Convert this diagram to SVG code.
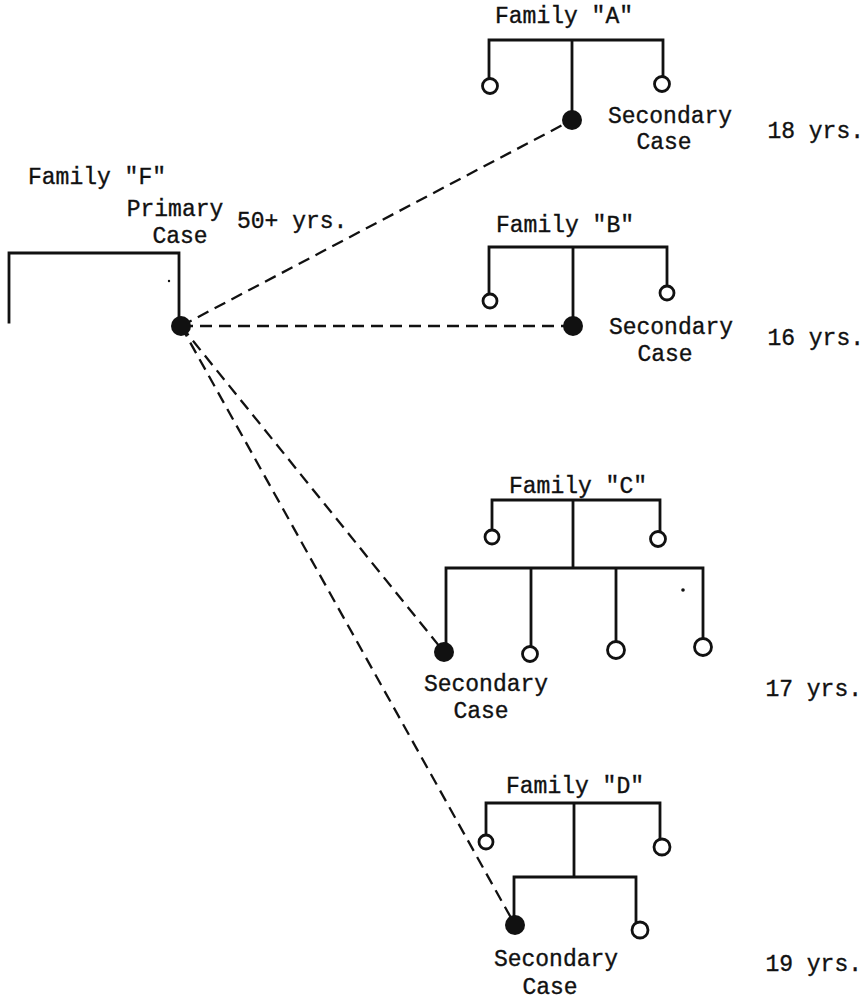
<svg xmlns="http://www.w3.org/2000/svg" width="868" height="1000" viewBox="0 0 868 1000">
<style>
text{font-family:"Liberation Mono","Courier New",monospace;font-size:23px;fill:#111;stroke:#111;stroke-width:0.35}
.m{text-anchor:middle}
.e{text-anchor:end}
.ln{stroke:#111;stroke-width:2.8;fill:none;stroke-linecap:square}
.op{stroke:#111;stroke-width:2.8;fill:#fff}
.fi{fill:#111}
.dash{stroke:#111;stroke-width:2.3;fill:none;stroke-dasharray:12 7}
</style>
<rect width="868" height="1000" fill="#fff"/>
<g id="connectors">
<line class="dash" x1="181" y1="326" x2="572" y2="120"/>
<line class="dash" x1="181" y1="326" x2="573" y2="326"/>
<line class="dash" x1="181" y1="326" x2="444" y2="652"/>
<line class="dash" x1="181" y1="326" x2="515" y2="925"/>
</g>
<g id="familyF">
<text x="28" y="184">Family "F"</text>
<text class="m" x="175" y="216">Primary</text>
<text class="m" x="180" y="243">Case</text>
<text x="237" y="228">50+ yrs.</text>
<path class="ln" d="M9 322 V253 H179 V318"/>
<circle class="fi" cx="181" cy="326" r="10"/>
<circle class="fi" cx="169" cy="281" r="1.2"/>
</g>
<g id="familyA">
<text class="m" x="564" y="23">Family "A"</text>
<path class="ln" d="M489 78 V40 H663 V76 M572 40 V115"/>
<circle class="op" cx="490" cy="86" r="7.5"/>
<circle class="op" cx="662" cy="84" r="7.5"/>
<circle class="fi" cx="572" cy="120" r="10"/>
<text class="m" x="670" y="123">Secondary</text>
<text class="m" x="664" y="149">Case</text>
<text class="e" x="864" y="138">18 yrs.</text>
</g>
<g id="familyB">
<text class="m" x="565" y="232">Family "B"</text>
<path class="ln" d="M489 294 V247 H667 V286 M573 247 V318"/>
<circle class="op" cx="490" cy="301" r="7"/>
<circle class="op" cx="667" cy="293" r="7"/>
<circle class="fi" cx="573" cy="326" r="10"/>
<text class="m" x="671" y="334">Secondary</text>
<text class="m" x="665" y="361">Case</text>
<text class="e" x="864" y="345">16 yrs.</text>
</g>
<g id="familyC">
<text class="m" x="578" y="493">Family "C"</text>
<path class="ln" d="M492 530 V500 H660 V531 M573 500 V568 M446 643 V568 H703 V639 M531 568 V646 M616 568 V642"/>
<circle class="op" cx="492" cy="537" r="7"/>
<circle class="op" cx="658" cy="539" r="7.5"/>
<circle class="fi" cx="444" cy="652" r="10"/>
<circle class="op" cx="530" cy="654" r="7.5"/>
<circle class="op" cx="616" cy="650" r="8.5"/>
<circle class="op" cx="703" cy="647" r="8.5"/>
<circle class="fi" cx="683" cy="590" r="1.8"/>
<text class="m" x="486" y="691">Secondary</text>
<text class="m" x="481" y="718">Case</text>
<text class="e" x="862" y="696">17 yrs.</text>
</g>
<g id="familyD">
<text class="m" x="575" y="793">Family "D"</text>
<path class="ln" d="M486 835 V803 H660 V839 M574 803 V877 M514 917 V877 H636 V922"/>
<circle class="op" cx="486" cy="842" r="7"/>
<circle class="op" cx="662" cy="847" r="8"/>
<circle class="fi" cx="515" cy="925" r="10"/>
<circle class="op" cx="640" cy="930" r="8"/>
<text class="m" x="556" y="966">Secondary</text>
<text class="m" x="550" y="994">Case</text>
<text class="e" x="862" y="971">19 yrs.</text>
</g>
</svg>
